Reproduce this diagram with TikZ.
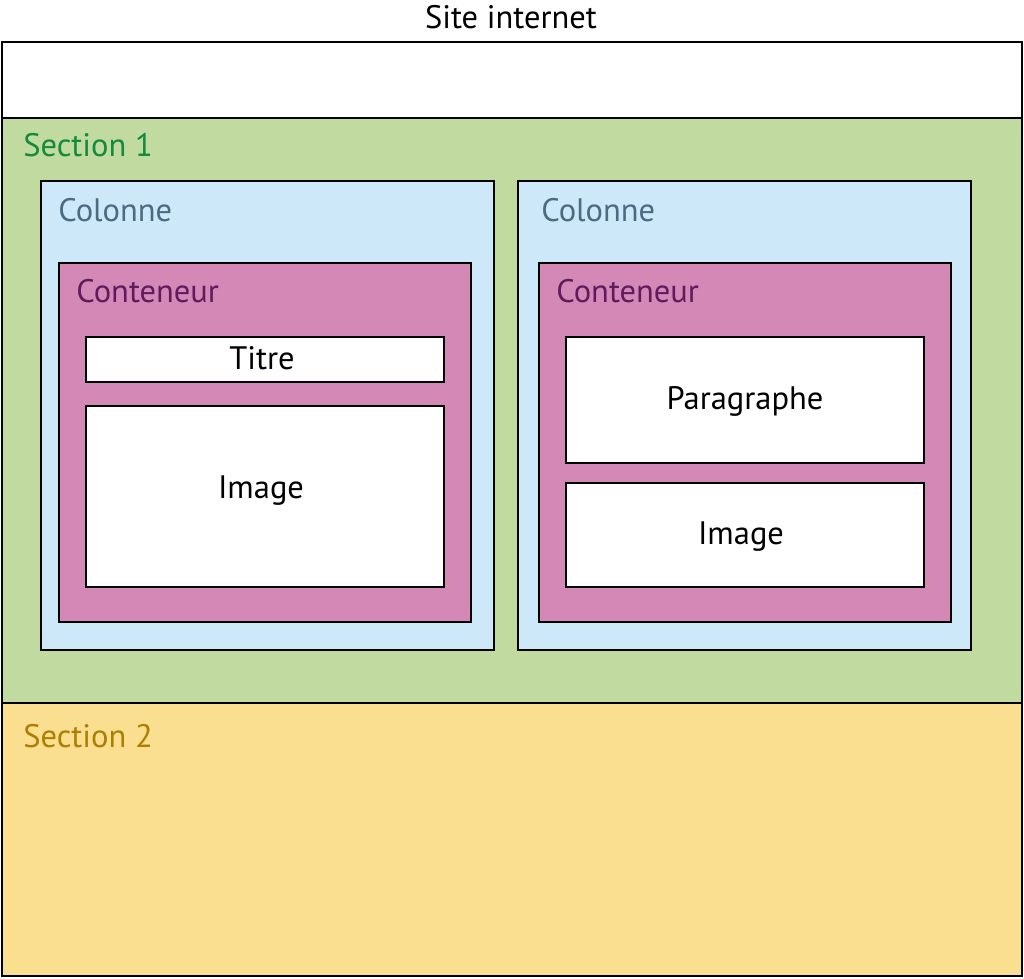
\documentclass[tikz,border=0pt]{standalone}
\usepackage{fontspec}
\setmainfont{PT Sans}

\definecolor{vert}{HTML}{C0DAA0}
\definecolor{bleu}{HTML}{CDE8F9}
\definecolor{rose}{HTML}{D488B6}
\definecolor{jaune}{HTML}{FBDF91}
\definecolor{vertTexte}{HTML}{138A3C}
\definecolor{bleuTexte}{HTML}{4B6B82}
\definecolor{roseTexte}{HTML}{5E1B60}
\definecolor{jauneTexte}{HTML}{AC7E02}

\begin{document}
\begin{tikzpicture}[x=0.02cm,y=-0.02cm,
    cadre/.style={draw=black,line width=1.6pt},
    etiquette/.style={anchor=base west,inner sep=0pt,font=\fontsize{18.5}{22}\selectfont},
    texte/.style={anchor=base,inner sep=0pt,font=\fontsize{18.5}{22}\selectfont}]
    \useasboundingbox (0,0) rectangle (1024,978);

    % page
    \node[texte] (site) at (511,28) {Site internet};
    \draw[cadre,fill=white] (2,42) rectangle (1022,118);
    \draw[cadre,fill=vert]  (2,118) rectangle (1022,703);
    \draw[cadre,fill=jaune] (2,703) rectangle (1022,976);
    \node[etiquette,text=vertTexte]  (sectionA) at (23,156) {Section 1};
    \node[etiquette,text=jauneTexte] (sectionB) at (23,747) {Section 2};

    % colonnes
    \draw[cadre,fill=bleu] (41,181) rectangle (494,650);
    \draw[cadre,fill=bleu] (518,181) rectangle (971,650);
    \node[etiquette,text=bleuTexte] (colA) at (58,221) {Colonne};
    \node[etiquette,text=bleuTexte] (colB) at (541,221) {Colonne};

    % conteneurs
    \draw[cadre,fill=rose] (59,263) rectangle (471,622);
    \draw[cadre,fill=rose] (539,263) rectangle (951,622);
    \node[etiquette,text=roseTexte] (contA) at (76,302) {Conteneur};
    \node[etiquette,text=roseTexte] (contB) at (556,302) {Conteneur};

    % contenu
    \draw[cadre,fill=white] (86,337) rectangle (444,382);
    \draw[cadre,fill=white] (86,406) rectangle (444,587);
    \draw[cadre,fill=white] (566,337) rectangle (924,463);
    \draw[cadre,fill=white] (566,483) rectangle (924,587);
    \node[texte] (titre)  at (262,369) {Titre};
    \node[texte] (imageA) at (261,498) {Image};
    \node[texte] (para)   at (745,409) {Paragraphe};
    \node[texte] (imageB) at (741,544) {Image};
\end{tikzpicture}
\end{document}
